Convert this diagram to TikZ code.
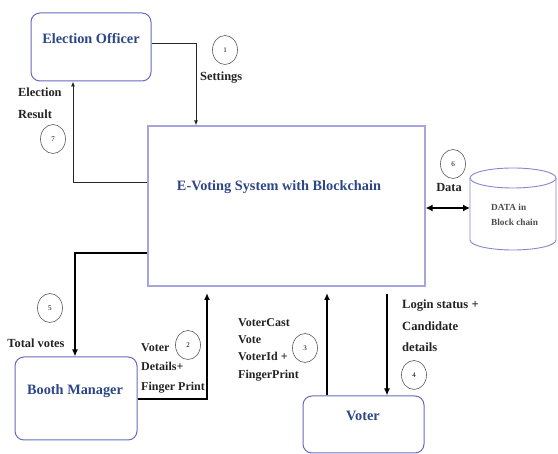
\documentclass[tikz,border=0pt]{standalone}
\usepackage{fontspec}
\setmainfont{Liberation Serif}[BoldFont={Liberation Serif Bold}]
\newfontfamily\tnr{Liberation Serif}[BoldFont={Liberation Serif Bold}]
\usetikzlibrary{arrows.meta,shapes.geometric}
\definecolor{boxline}{RGB}{105,105,195}
\definecolor{mainline}{RGB}{165,165,220}
\definecolor{titleblue}{RGB}{45,70,135}
\definecolor{lbl}{RGB}{35,35,35}
\begin{document}
\begin{tikzpicture}[x=1pt,y=-1pt,
  entity/.style={draw=boxline,line width=1pt,rounded corners=9pt,fill=white,inner sep=0pt},
  titletext/.style={font=\tnr\bfseries\fontsize{14.3}{16}\selectfont,text=titleblue,inner sep=0pt},
  lab/.style={font=\tnr\bfseries\fontsize{12.4}{19.5}\selectfont,text=lbl,align=left,inner sep=0pt},
  num/.style={draw=black!65,line width=0.6pt,ellipse,minimum width=25pt,minimum height=29pt,inner sep=0pt,font=\tnr\fontsize{7}{8}\selectfont},
  thin/.style={draw=black!85,line width=0.9pt,-{Latex[length=5pt,width=4pt]}},
  thick/.style={draw=black,line width=1.8pt,-{Latex[length=7pt,width=6pt]}}
]
\useasboundingbox (0,0) rectangle (558,454);
% boxes
\node[entity,minimum width=120pt,minimum height=68pt] (eo) at (91,47) {};
\node[draw=mainline,line width=1.2pt,minimum width=277pt,minimum height=160pt,inner sep=0pt] (main) at (286.5,206) {};
\node[entity,minimum width=122pt,minimum height=83pt] (bm) at (76,398.5) {};
\node[entity,minimum width=121pt,minimum height=57pt] (vt) at (363.5,424.5) {};
% cylinder
\draw[draw=boxline!80,line width=0.9pt,fill=white] (470,178) -- (470,240) arc[start angle=180,end angle=360,x radius=43pt,y radius=10pt] -- (556,178);
\draw[draw=boxline!80,line width=0.9pt,fill=white] (513,178) ellipse[x radius=43pt,y radius=10pt];
\coordinate (db) at (470,208);
% titles
\node[titletext] (eot) at (91,39) {Election Officer};
\node[titletext] (mt) at (279,187) {E-Voting System with Blockchain};
\node[titletext] (bmt) at (75,391) {Booth Manager};
\node[titletext] (vtt) at (363,416) {Voter};
\node[font=\tnr\bfseries\fontsize{9.3}{15}\selectfont,text=black!70,align=left,inner sep=0pt,anchor=west] (dbt) at (491,215) {DATA in\\Block chain};
% connectors
\coordinate (s1) at (196,43);
\draw[thin] (eo.east |- s1) -- (s1) -- (s1 |- main.north);
\coordinate (r7) at (73,182);
\draw[thin] (main.west |- r7) -- (r7) -- (r7 |- eo.south);
\coordinate (t5) at (75,253);
\draw[thick] (main.west |- t5) -- (t5) -- (t5 |- bm.north);
\coordinate (v2) at (207,399);
\draw[thick] (bm.east |- v2) -- (v2) -- (207,293);
\draw[thick] (vt.north -| 327,0) -- (327,293);
\draw[thick] (387,294) -- (vt.north -| 387,0);
\draw[draw=black,line width=2.2pt,{Latex[length=7pt,width=7pt]}-{Latex[length=7pt,width=7pt]}] (main.east |- db) -- (db);
% number circles
\node[num] (n1) at (225,50) {1};
\node[num] (n7) at (53,139) {7};
\node[num] (n6) at (453,164) {6};
\node[num] (n5) at (50,308) {5};
\node[num] (n2) at (188,345) {2};
\node[num] (n3) at (305,348) {3};
\node[num] (n4) at (414,375) {4};
% labels
\node[lab,anchor=west] (l1) at (200,78) {Settings};
\node[lab,anchor=north west,font=\tnr\bfseries\fontsize{12.4}{22}\selectfont] (l7) at (18,88) {Election\\Result};
\node[lab] (l6) at (449,188) {Data};
\node[lab] (l5) at (36,343) {Total votes};
\node[lab,anchor=north west,font=\tnr\bfseries\fontsize{12}{19.5}\selectfont] (l2) at (141,343) {Voter\\Details+\\Finger Print};
\node[lab,anchor=north west,font=\tnr\bfseries\fontsize{12}{17.3}\selectfont] (l3) at (238,318) {VoterCast\\Vote\\VoterId +\\FingerPrint};
\node[lab,anchor=north west,font=\tnr\bfseries\fontsize{12.6}{21.5}\selectfont] (l4) at (402,300) {Login status +\\Candidate\\details};
\end{tikzpicture}
\end{document}
